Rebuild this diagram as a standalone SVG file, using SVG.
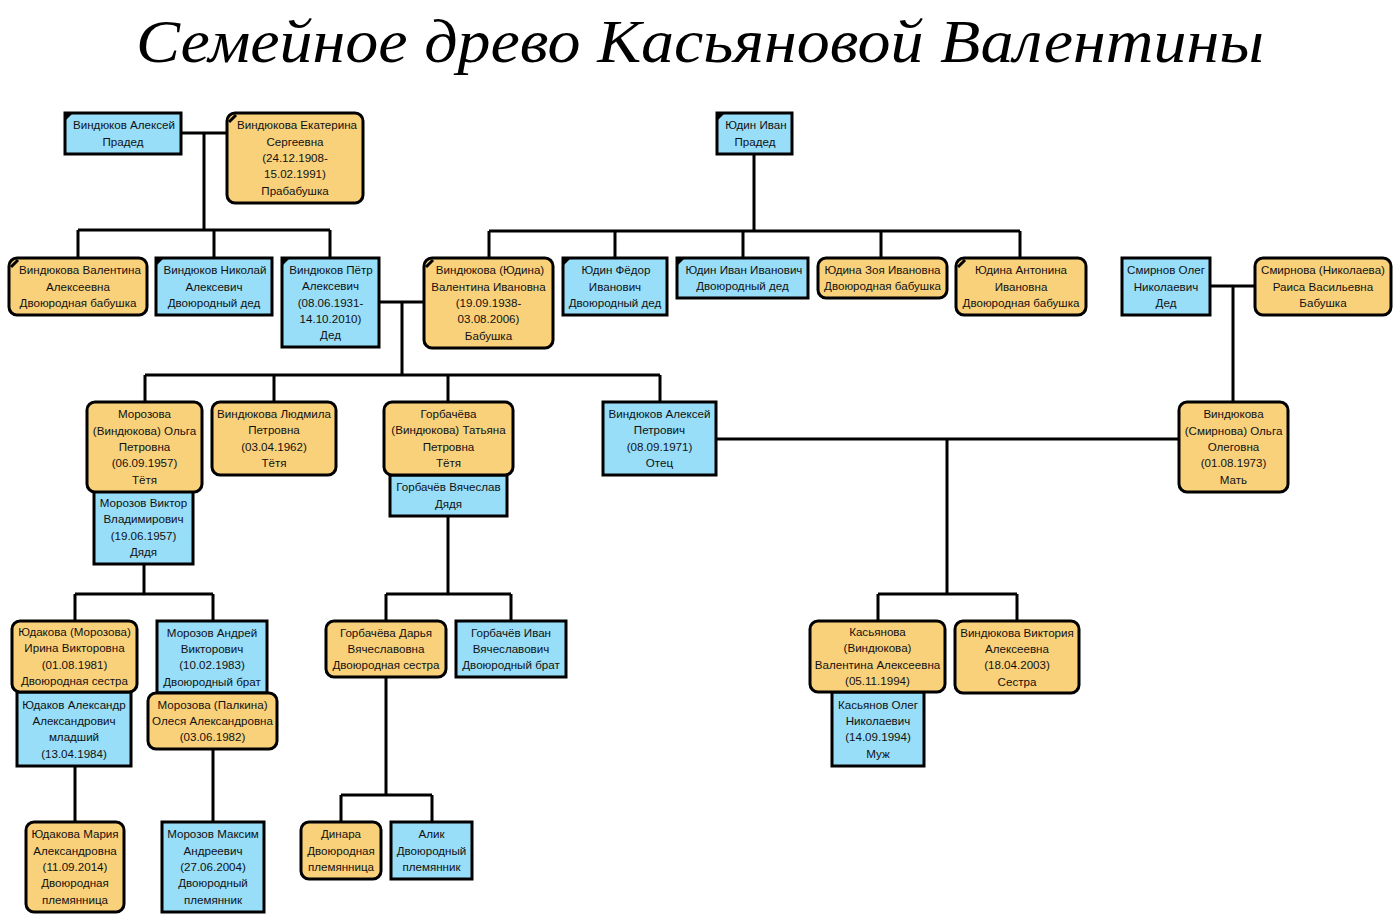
<svg xmlns="http://www.w3.org/2000/svg" width="1400" height="921" viewBox="0 0 1400 921">
<style>
.o{fill:#fad17b;stroke:#000;stroke-width:3}
.b{fill:#98def9;stroke:#000;stroke-width:3}
.t{font-family:"Liberation Sans",Arial,sans-serif;font-size:11.6px;fill:#111;text-anchor:middle}
.c{fill:none;stroke:#000;stroke-width:3}
.m{fill:#000}
.mr{stroke:#000;stroke-width:3}
.title{font-family:"Liberation Serif",serif;font-style:italic;font-size:62px;fill:#000}
</style>
<rect width="1400" height="921" fill="#fff"/>
<text class="title" x="136" y="62" textLength="1128" lengthAdjust="spacingAndGlyphs">Семейное  древо  Касьяновой  Валентины</text>
<g id="connectors" class="c">
<path d="M181,133 H227 M204,133 V230 M78,230 H330 M78,230 V258 M214,230 V258 M330,230 V258"/>
<path d="M754,154 V231 M489,231 H1020 M489,231 V258 M615,231 V258 M743,231 V258 M881,231 V258 M1020,231 V258"/>
<path d="M379,302 H424 M402,302 V375 M145,375 H660 M145,375 V402 M274,375 V402 M448,375 V402 M660,375 V402"/>
<path d="M1210,286 H1255 M1233,286 V402"/>
<path d="M716,439 H1179 M947,439 V594 M878,594 H1017 M878,594 V621 M1017,594 V621"/>
<path d="M144,564 V594 M75,594 H213 M75,594 V621 M213,594 V621"/>
<path d="M448,516 V594 M386,594 H511 M386,594 V621 M511,594 V621"/>
<path d="M75,766 V822 M213,749 V822"/>
<path d="M386,677 V795 M341,795 H432 M341,795 V822 M432,795 V822"/>
</g>
<g id="n1"><rect class="b" x="65" y="113" width="116" height="41"/><polygon class="m" points="65,113 73,113 65,121"/><text class="t" x="123" y="129.4"><tspan x="124">Виндюков Алексей</tspan><tspan x="123" dy="16.3">Прадед</tspan></text></g>
<g id="n2"><rect class="o" x="227" y="113" width="136" height="90" rx="8"/><line class="mr" x1="229" y1="122" x2="236" y2="115"/><text class="t" x="295" y="129.4"><tspan x="297">Виндюкова Екатерина</tspan><tspan x="295" dy="16.3">Сергеевна</tspan><tspan x="295" dy="16.3">(24.12.1908-</tspan><tspan x="295" dy="16.3">15.02.1991)</tspan><tspan x="295" dy="16.3">Прабабушка</tspan></text></g>
<g id="n3"><rect class="o" x="9" y="258" width="138" height="57" rx="8"/><line class="mr" x1="11" y1="267" x2="18" y2="260"/><text class="t" x="78" y="274.2"><tspan x="80">Виндюкова Валентина</tspan><tspan x="78" dy="16.3">Алексеевна</tspan><tspan x="78" dy="16.3">Двоюродная бабушка</tspan></text></g>
<g id="n4"><rect class="b" x="156" y="258" width="116" height="57"/><polygon class="m" points="156,258 164,258 156,266"/><text class="t" x="214" y="274.2"><tspan x="215">Виндюков Николай</tspan><tspan x="214" dy="16.3">Алексевич</tspan><tspan x="214" dy="16.3">Двоюродный дед</tspan></text></g>
<g id="n5"><rect class="b" x="282" y="258" width="97" height="89"/><polygon class="m" points="282,258 290,258 282,266"/><text class="t" x="330.5" y="273.9"><tspan x="331">Виндюков Пётр</tspan><tspan x="330.5" dy="16.3">Алексевич</tspan><tspan x="330.5" dy="16.3">(08.06.1931-</tspan><tspan x="330.5" dy="16.3">14.10.2010)</tspan><tspan x="330.5" dy="16.3">Дед</tspan></text></g>
<g id="n6"><rect class="b" x="717" y="113" width="75" height="41"/><polygon class="m" points="717,113 725,113 717,121"/><text class="t" x="755" y="129.4"><tspan x="756">Юдин Иван</tspan><tspan x="755" dy="16.3">Прадед</tspan></text></g>
<g id="n7"><rect class="o" x="424" y="258" width="129" height="90" rx="8"/><line class="mr" x1="426" y1="267" x2="433" y2="260"/><text class="t" x="488.5" y="274.4"><tspan x="490">Виндюкова (Юдина)</tspan><tspan x="488.5" dy="16.3">Валентина Ивановна</tspan><tspan x="488.5" dy="16.3">(19.09.1938-</tspan><tspan x="488.5" dy="16.3">03.08.2006)</tspan><tspan x="488.5" dy="16.3">Бабушка</tspan></text></g>
<g id="n8"><rect class="b" x="563" y="258" width="104" height="57"/><polygon class="m" points="563,258 571,258 563,266"/><text class="t" x="615" y="274.2"><tspan x="616">Юдин Фёдор</tspan><tspan x="615" dy="16.3">Иванович</tspan><tspan x="615" dy="16.3">Двоюродный дед</tspan></text></g>
<g id="n9"><rect class="b" x="677" y="258" width="131" height="40"/><polygon class="m" points="677,258 685,258 677,266"/><text class="t" x="742.5" y="273.9"><tspan x="744">Юдин Иван Иванович</tspan><tspan x="742.5" dy="16.3">Двоюродный дед</tspan></text></g>
<g id="n10"><rect class="o" x="818" y="258" width="129" height="40" rx="8"/><text class="t" x="882.5" y="273.9"><tspan x="882.5">Юдина Зоя Ивановна</tspan><tspan x="882.5" dy="16.3">Двоюродная бабушка</tspan></text></g>
<g id="n11"><rect class="o" x="956" y="258" width="130" height="57" rx="8"/><line class="mr" x1="958" y1="267" x2="965" y2="260"/><text class="t" x="1021" y="274.2"><tspan x="1021">Юдина Антонина</tspan><tspan x="1021" dy="16.3">Ивановна</tspan><tspan x="1021" dy="16.3">Двоюродная бабушка</tspan></text></g>
<g id="n12"><rect class="b" x="1122" y="258" width="88" height="57"/><text class="t" x="1166" y="274.2"><tspan x="1166">Смирнов Олег</tspan><tspan x="1166" dy="16.3">Николаевич</tspan><tspan x="1166" dy="16.3">Дед</tspan></text></g>
<g id="n13"><rect class="o" x="1255" y="258" width="136" height="57" rx="8"/><text class="t" x="1323" y="274.2"><tspan x="1323">Смирнова (Николаева)</tspan><tspan x="1323" dy="16.3">Раиса Васильевна</tspan><tspan x="1323" dy="16.3">Бабушка</tspan></text></g>
<g id="n14"><rect class="o" x="1179" y="402" width="109" height="90" rx="8"/><text class="t" x="1233.5" y="418.4"><tspan x="1233.5">Виндюкова</tspan><tspan x="1233.5" dy="16.3">(Смирнова) Ольга</tspan><tspan x="1233.5" dy="16.3">Олеговна</tspan><tspan x="1233.5" dy="16.3">(01.08.1973)</tspan><tspan x="1233.5" dy="16.3">Мать</tspan></text></g>
<g id="n16"><rect class="b" x="94" y="491" width="99" height="73"/><text class="t" x="143.5" y="507.1"><tspan x="143.5">Морозов Виктор</tspan><tspan x="143.5" dy="16.3">Владимирович</tspan><tspan x="143.5" dy="16.3">(19.06.1957)</tspan><tspan x="143.5" dy="16.3">Дядя</tspan></text></g>
<g id="n15"><rect class="o" x="87" y="402" width="115" height="90" rx="8"/><text class="t" x="144.5" y="418.4"><tspan x="144.5">Морозова</tspan><tspan x="144.5" dy="16.3">(Виндюкова) Ольга</tspan><tspan x="144.5" dy="16.3">Петровна</tspan><tspan x="144.5" dy="16.3">(06.09.1957)</tspan><tspan x="144.5" dy="16.3">Тётя</tspan></text></g>
<g id="n17"><rect class="o" x="212" y="402" width="124" height="73" rx="8"/><text class="t" x="274" y="418.1"><tspan x="274">Виндюкова Людмила</tspan><tspan x="274" dy="16.3">Петровна</tspan><tspan x="274" dy="16.3">(03.04.1962)</tspan><tspan x="274" dy="16.3">Тётя</tspan></text></g>
<g id="n19"><rect class="b" x="390" y="475" width="117" height="41"/><text class="t" x="448.5" y="491.4"><tspan x="448.5">Горбачёв Вячеслав</tspan><tspan x="448.5" dy="16.3">Дядя</tspan></text></g>
<g id="n18"><rect class="o" x="384" y="402" width="129" height="73" rx="8"/><text class="t" x="448.5" y="418.1"><tspan x="448.5">Горбачёва</tspan><tspan x="448.5" dy="16.3">(Виндюкова) Татьяна</tspan><tspan x="448.5" dy="16.3">Петровна</tspan><tspan x="448.5" dy="16.3">Тётя</tspan></text></g>
<g id="n20"><rect class="b" x="603" y="402" width="113" height="73"/><text class="t" x="659.5" y="418.1"><tspan x="659.5">Виндюков Алексей</tspan><tspan x="659.5" dy="16.3">Петрович</tspan><tspan x="659.5" dy="16.3">(08.09.1971)</tspan><tspan x="659.5" dy="16.3">Отец</tspan></text></g>
<g id="n22"><rect class="b" x="17" y="692" width="114" height="74"/><text class="t" x="74" y="708.6"><tspan x="74">Юдаков Александр</tspan><tspan x="74" dy="16.3">Александрович</tspan><tspan x="74" dy="16.3">младший</tspan><tspan x="74" dy="16.3">(13.04.1984)</tspan></text></g>
<g id="n21"><rect class="o" x="12" y="621" width="125" height="71" rx="8"/><text class="t" x="74.5" y="636.1"><tspan x="74.5">Юдакова (Морозова)</tspan><tspan x="74.5" dy="16.3">Ирина Викторовна</tspan><tspan x="74.5" dy="16.3">(01.08.1981)</tspan><tspan x="74.5" dy="16.3">Двоюродная сестра</tspan></text></g>
<g id="n23"><rect class="b" x="157" y="621" width="110" height="72"/><text class="t" x="212" y="636.6"><tspan x="212">Морозов Андрей</tspan><tspan x="212" dy="16.3">Викторович</tspan><tspan x="212" dy="16.3">(10.02.1983)</tspan><tspan x="212" dy="16.3">Двоюродный брат</tspan></text></g>
<g id="n24"><rect class="o" x="148" y="693" width="129" height="56" rx="8"/><text class="t" x="212.5" y="708.7"><tspan x="212.5">Морозова (Палкина)</tspan><tspan x="212.5" dy="16.3">Олеся Александровна</tspan><tspan x="212.5" dy="16.3">(03.06.1982)</tspan></text></g>
<g id="n25"><rect class="o" x="26" y="822" width="98" height="90" rx="8"/><text class="t" x="75" y="838.4"><tspan x="75">Юдакова Мария</tspan><tspan x="75" dy="16.3">Александровна</tspan><tspan x="75" dy="16.3">(11.09.2014)</tspan><tspan x="75" dy="16.3">Двоюродная</tspan><tspan x="75" dy="16.3">племянница</tspan></text></g>
<g id="n26"><rect class="b" x="162" y="822" width="102" height="90"/><text class="t" x="213" y="838.4"><tspan x="213">Морозов Максим</tspan><tspan x="213" dy="16.3">Андреевич</tspan><tspan x="213" dy="16.3">(27.06.2004)</tspan><tspan x="213" dy="16.3">Двоюродный</tspan><tspan x="213" dy="16.3">племянник</tspan></text></g>
<g id="n27"><rect class="o" x="326" y="621" width="120" height="56" rx="8"/><text class="t" x="386" y="636.7"><tspan x="386">Горбачёва Дарья</tspan><tspan x="386" dy="16.3">Вячеславовна</tspan><tspan x="386" dy="16.3">Двоюродная сестра</tspan></text></g>
<g id="n28"><rect class="b" x="456" y="621" width="110" height="56"/><text class="t" x="511" y="636.7"><tspan x="511">Горбачёв Иван</tspan><tspan x="511" dy="16.3">Вячеславович</tspan><tspan x="511" dy="16.3">Двоюродный брат</tspan></text></g>
<g id="n29"><rect class="o" x="301" y="822" width="80" height="57" rx="8"/><text class="t" x="341" y="838.2"><tspan x="341">Динара</tspan><tspan x="341" dy="16.3">Двоюродная</tspan><tspan x="341" dy="16.3">племянница</tspan></text></g>
<g id="n30"><rect class="b" x="391" y="822" width="81" height="57"/><text class="t" x="431.5" y="838.2"><tspan x="431.5">Алик</tspan><tspan x="431.5" dy="16.3">Двоюродный</tspan><tspan x="431.5" dy="16.3">племянник</tspan></text></g>
<g id="n32"><rect class="b" x="832" y="692" width="92" height="74"/><text class="t" x="878" y="708.6"><tspan x="878">Касьянов Олег</tspan><tspan x="878" dy="16.3">Николаевич</tspan><tspan x="878" dy="16.3">(14.09.1994)</tspan><tspan x="878" dy="16.3">Муж</tspan></text></g>
<g id="n31"><rect class="o" x="810" y="621" width="135" height="71" rx="8"/><text class="t" x="877.5" y="636.1"><tspan x="877.5">Касьянова</tspan><tspan x="877.5" dy="16.3">(Виндюкова)</tspan><tspan x="877.5" dy="16.3">Валентина Алексеевна</tspan><tspan x="877.5" dy="16.3">(05.11.1994)</tspan></text></g>
<g id="n33"><rect class="o" x="955" y="621" width="124" height="72" rx="8"/><text class="t" x="1017" y="636.6"><tspan x="1017">Виндюкова Виктория</tspan><tspan x="1017" dy="16.3">Алексеевна</tspan><tspan x="1017" dy="16.3">(18.04.2003)</tspan><tspan x="1017" dy="16.3">Сестра</tspan></text></g>
</svg>
